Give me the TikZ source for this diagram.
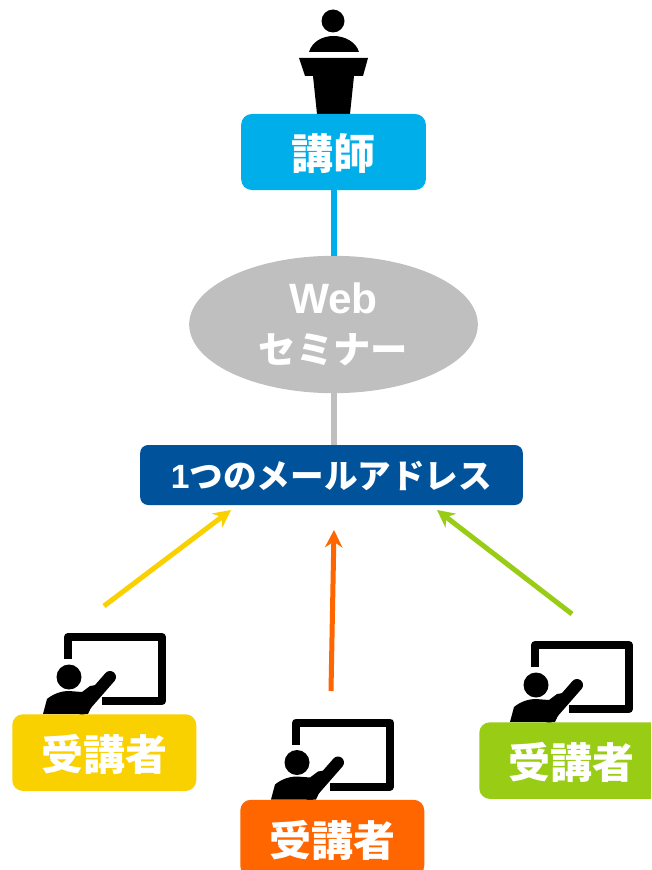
\documentclass[tikz,border=0pt]{standalone}
\usepackage{fontspec}
\usetikzlibrary{shapes.geometric,arrows.meta}
\setmainfont{Liberation Sans}
\newfontfamily\jpfont{Noto Sans CJK JP}
\definecolor{koushi}{HTML}{00AEEA}
\definecolor{seminar}{HTML}{BFBFBF}
\definecolor{mailbox}{HTML}{00539B}
\definecolor{jukiA}{HTML}{F9D000}
\definecolor{jukiB}{HTML}{FF6600}
\definecolor{jukiC}{HTML}{99CC14}
\tikzset{
  rolebox/.style={rounded corners=8pt,inner sep=0pt,text=white,text depth=0pt,font=\jpfont\bfseries\fontsize{31.5}{36}\selectfont},
  jukoicon/.pic={
    \draw[line width=6pt,line join=round] (56,-55)--(56,-77)--(150,-77)--(150,-13)--(90,-13);
    \fill (57,-37) circle(12.5);
    \fill (31,0)--(35,-15)..controls (41,-20) and (49,-23) .. (57,-23)--(70,-22)--(78,-28)--(90,-30)--(76,0)--cycle;
    \draw[line width=9pt,line cap=round] (70,-5)--(98,-37);
  }
}
\begin{document}
\begin{tikzpicture}[>={Stealth[length=13pt,width=13pt]},x=.75pt,y=-.75pt]
    \useasboundingbox (0,0) rectangle (651,870);
    \clip (0,0) rectangle (651,870);
    \fill (333,21) circle(11.5); %Speaker
    \fill (309,52)..controls (312,42) and (322,36) .. (333.5,36)..controls (345,36) and (356,42) .. (359,52)--cycle;
    \fill (299,58)--(368,58)--(363,76)--(354,76)--(350,114)--(317,114)--(313,76)--(305,76)--cycle;
    \node[rolebox,fill=koushi,minimum width=138.5pt,minimum height=57pt] (koushi) at (333.5,152) {講師};
    \node[ellipse,fill=seminar,inner sep=0pt,minimum width=216.5pt,minimum height=103pt,text=white,align=center,font=\bfseries\fontsize{31.8}{37}\selectfont] (web) at (333.5,324.5)
        {Web\\[1pt]{\jpfont\fontsize{28}{34}\selectfont セミナー}};
    \node[rolebox,fill=mailbox,rounded corners=6pt,minimum width=287pt,minimum height=45pt,font=\jpfont\bfseries\fontsize{25.2}{30}\selectfont] (mail) at (331.5,475) {{\rmfamily\bfseries 1}つのメールアドレス};
    \draw[koushi,line width=4.5pt] (koushi)--(web);
    \draw[seminar,line width=4.5pt] (web)--(web |- mail.north);
    \foreach \n/\x/\y/\c in {a/12/714/jukiA,b/240/799.5/jukiB,c/479/722/jukiC}{
        \pic at (\x,\y) {jukoicon};
        \node[rolebox,fill=\c,anchor=north west,minimum width=138pt,minimum height=57.5pt] (juko\n) at (\x,\y) {受講者};
    }
    \coordinate (fromA) at (104,606);
    \coordinate (toA) at (231,510);
    \coordinate (fromB) at (331,691);
    \coordinate (toB) at (334,530);
    \coordinate (fromC) at (572,614);
    \coordinate (toC) at (437,510);
    \draw[->,jukiA,line width=3.75pt] (fromA)--(toA);
    \draw[->,jukiB,line width=3.75pt] (fromB)--(toB);
    \draw[->,jukiC,line width=3.75pt] (fromC)--(toC);
\end{tikzpicture}
\end{document}
